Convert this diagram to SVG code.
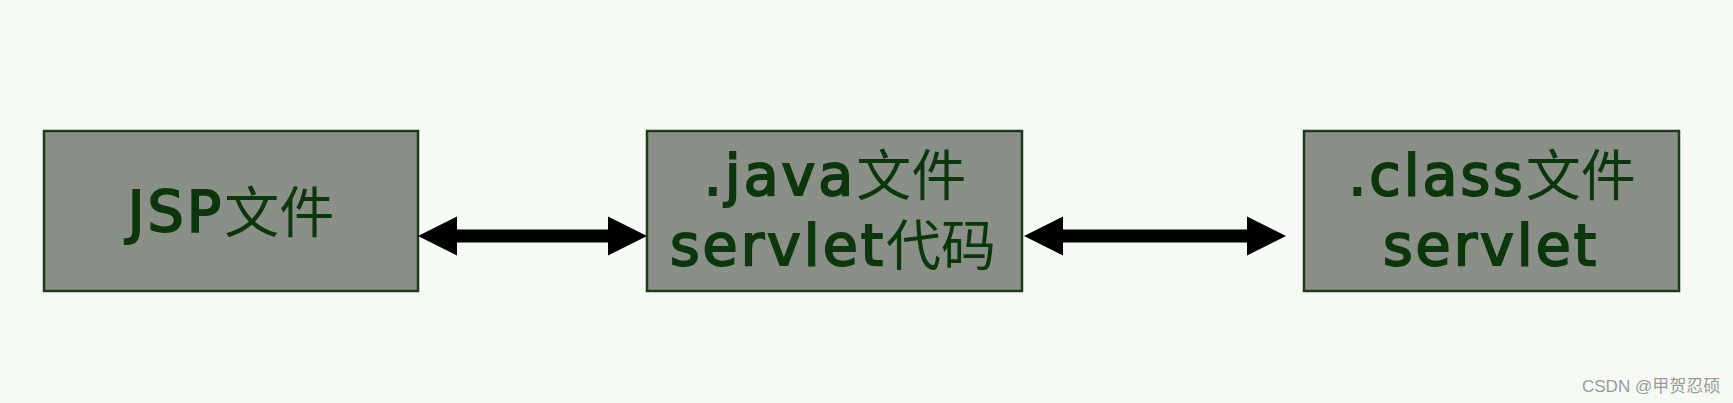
<svg xmlns="http://www.w3.org/2000/svg" width="1733" height="403" viewBox="0 0 1733 403">
<style>
.box{fill:#8a9087;stroke:#1e3a1a;stroke-width:2.5}
.lbl{font-family:"DejaVu Sans","Noto Sans CJK SC",sans-serif;font-weight:normal;font-size:57px;letter-spacing:3px;fill:#0c360c;stroke:#0c360c;stroke-width:2;text-anchor:middle}
.cjk{font-family:"Noto Sans CJK SC",sans-serif;font-weight:normal;font-size:55px;letter-spacing:0;stroke-width:0}
.conn{stroke:#000;stroke-width:13;fill:none;marker-start:url(#ah);marker-end:url(#ah)}
.wm{font-family:"Liberation Sans","Noto Sans CJK SC",sans-serif;font-size:17px;fill:#9a9a9a}
</style>
<defs>
<marker id="ah" viewBox="0 -20 40 40" markerWidth="40" markerHeight="40" refX="17" refY="0" markerUnits="userSpaceOnUse" orient="auto-start-reverse">
<path d="M0,-19.5 L39,0 L0,19.5 z" fill="#000"/>
</marker>
</defs>
<rect width="1733" height="403" fill="#f5fbf4"/>
<g id="node-jsp">
<rect class="box" x="44" y="131" width="374" height="160"/>
<text class="lbl" x="231" y="232">JSP<tspan class="cjk">文件</tspan></text>
</g>
<g id="node-java">
<rect class="box" x="647" y="131" width="375" height="160"/>
<text class="lbl" x="835" y="195">.java<tspan class="cjk">文件</tspan></text>
<text class="lbl" x="833" y="265">servlet<tspan class="cjk">代码</tspan></text>
</g>
<g id="node-class">
<rect class="box" x="1304" y="131" width="375" height="160"/>
<text class="lbl" x="1492" y="195">.class<tspan class="cjk">文件</tspan></text>
<text class="lbl" x="1491" y="265">servlet</text>
</g>
<g id="connectors">
<path class="conn" d="M440,236 L625,236"/>
<path class="conn" d="M1046,236 L1264,236"/>
</g>
<text class="wm" x="1582" y="392">CSDN @甲贺忍硕</text>
</svg>
